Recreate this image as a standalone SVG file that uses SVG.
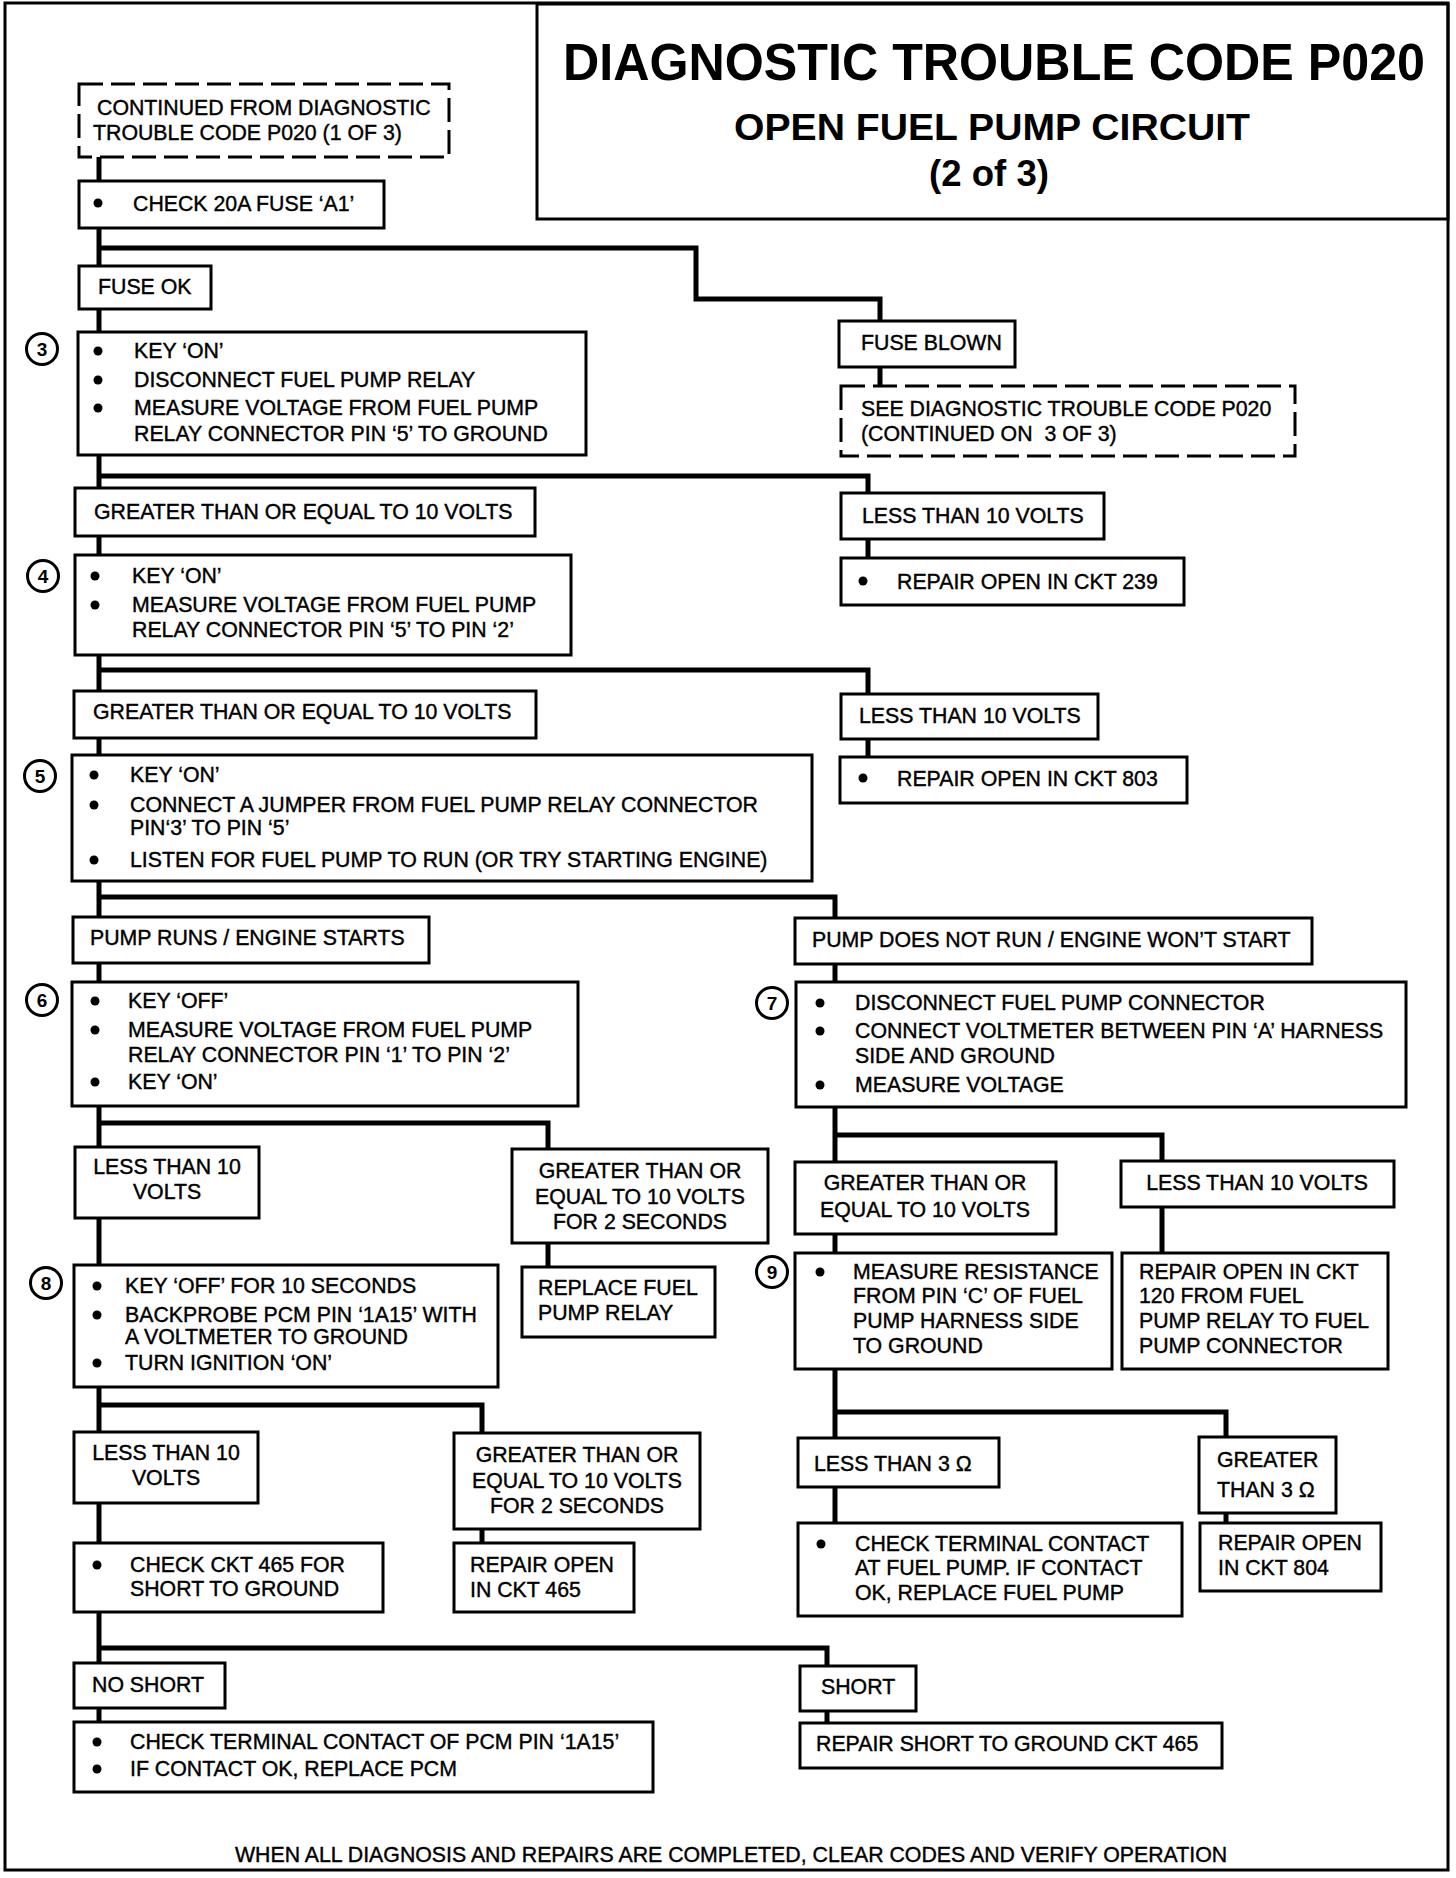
<svg xmlns="http://www.w3.org/2000/svg" width="1456" height="1878" viewBox="0 0 1456 1878">
<style>
.bg{fill:#fff}
.frame{fill:none;stroke:#000;stroke-width:3}
.box{fill:#fff;stroke:#000;stroke-width:3}
.dash{stroke-dasharray:24 8}
.t{font-family:"Liberation Sans",Arial,Helvetica,sans-serif;font-size:21.3px;fill:#000;stroke:#000;stroke-width:0.4;white-space:pre}
.m{text-anchor:middle}
.h{font-family:"Liberation Sans",Arial,Helvetica,sans-serif;font-weight:bold;fill:#000}
.b{fill:#000}
.num{fill:#fff;stroke:#000;stroke-width:3}
.nt{font-family:"Liberation Sans",Arial,Helvetica,sans-serif;font-weight:bold;font-size:19px;text-anchor:middle;fill:#000}
.cn{fill:none;stroke:#000;stroke-width:5;stroke-linejoin:miter;stroke-linecap:butt}
</style>
<rect class="bg" x="0" y="0" width="1456" height="1878"/>
<rect class="frame" x="5" y="3" width="1443" height="1867"/>
<g id="title">
<rect class="frame" x="537" y="4" width="911" height="215"/>
<text class="h" x="563" y="80" font-size="51" textLength="862" lengthAdjust="spacingAndGlyphs">DIAGNOSTIC TROUBLE CODE P020</text>
<text class="h" x="734" y="140" font-size="37" textLength="516" lengthAdjust="spacingAndGlyphs">OPEN FUEL PUMP CIRCUIT</text>
<text class="h" x="929" y="186" font-size="36" textLength="120" lengthAdjust="spacingAndGlyphs">(2 of 3)</text>
</g>
<g id="connectors">
<path class="cn" d="M99,157 V180"/>
<path class="cn" d="M99,227 V266"/>
<path class="cn" d="M99,248 H696 V299 H880 V321"/>
<path class="cn" d="M880,366 V386"/>
<path class="cn" d="M99,308 V332"/>
<path class="cn" d="M99,455 V488"/>
<path class="cn" d="M99,476 H868 V493"/>
<path class="cn" d="M868,539 V558"/>
<path class="cn" d="M99,536 V555"/>
<path class="cn" d="M99,655 V691"/>
<path class="cn" d="M99,670 H868 V694"/>
<path class="cn" d="M868,739 V757"/>
<path class="cn" d="M99,738 V755"/>
<path class="cn" d="M99,881 V917"/>
<path class="cn" d="M99,897 H835 V918"/>
<path class="cn" d="M835,964 V982"/>
<path class="cn" d="M99,963 V982"/>
<path class="cn" d="M99,1106 V1147"/>
<path class="cn" d="M99,1123 H548 V1149"/>
<path class="cn" d="M548,1243 V1267"/>
<path class="cn" d="M99,1218 V1265"/>
<path class="cn" d="M99,1387 V1432"/>
<path class="cn" d="M99,1405 H482 V1433"/>
<path class="cn" d="M482,1529 V1543"/>
<path class="cn" d="M99,1503 V1543"/>
<path class="cn" d="M99,1612 V1663"/>
<path class="cn" d="M99,1648 H827 V1666"/>
<path class="cn" d="M99,1708 V1722"/>
<path class="cn" d="M827,1711 V1723"/>
<path class="cn" d="M835,1107 V1162"/>
<path class="cn" d="M835,1135 H1162 V1161"/>
<path class="cn" d="M1162,1207 V1253"/>
<path class="cn" d="M835,1234 V1253"/>
<path class="cn" d="M835,1369 V1438"/>
<path class="cn" d="M835,1412 H1226 V1437"/>
<path class="cn" d="M835,1487 V1523"/>
<path class="cn" d="M1226,1513 V1523"/>
</g>
<g id="n_cont">
<rect class="box dash" x="79" y="84" width="370" height="73"/>
<text class="t" x="97" y="115">CONTINUED FROM DIAGNOSTIC</text>
<text class="t" x="93" y="140">TROUBLE CODE P020 (1 OF 3)</text>
</g>
<g id="n_check">
<rect class="box" x="79" y="181" width="305" height="47"/>
<circle class="b" cx="98" cy="203" r="4.5"/>
<text class="t" x="133" y="211">CHECK 20A FUSE ‘A1’</text>
</g>
<g id="n_fuseok">
<rect class="box" x="79" y="266" width="132" height="43"/>
<text class="t" x="98" y="294">FUSE OK</text>
</g>
<g id="n_fuseblown">
<rect class="box" x="839" y="321" width="176" height="46"/>
<text class="t" x="861" y="350">FUSE BLOWN</text>
</g>
<g id="n_see">
<rect class="box dash" x="841" y="386" width="454" height="70"/>
<text class="t" x="861" y="416">SEE DIAGNOSTIC TROUBLE CODE P020</text>
<text class="t" x="861" y="441">(CONTINUED ON  3 OF 3)</text>
</g>
<g id="n_step3">
<circle class="num" cx="42" cy="349" r="15.5"/>
<text class="nt" x="42" y="356">3</text>
<rect class="box" x="78" y="332" width="508" height="123"/>
<circle class="b" cx="98" cy="351" r="4.5"/>
<circle class="b" cx="98" cy="380" r="4.5"/>
<circle class="b" cx="98" cy="408" r="4.5"/>
<text class="t" x="134" y="358">KEY ‘ON’</text>
<text class="t" x="134" y="387">DISCONNECT FUEL PUMP RELAY</text>
<text class="t" x="134" y="415">MEASURE VOLTAGE FROM FUEL PUMP</text>
<text class="t" x="134" y="441">RELAY CONNECTOR PIN ‘5’ TO GROUND</text>
</g>
<g id="n_ge1">
<rect class="box" x="75" y="488" width="460" height="48"/>
<text class="t" x="94" y="519">GREATER THAN OR EQUAL TO 10 VOLTS</text>
</g>
<g id="n_lt1">
<rect class="box" x="841" y="493" width="263" height="46"/>
<text class="t" x="862" y="523">LESS THAN 10 VOLTS</text>
</g>
<g id="n_r239">
<rect class="box" x="841" y="558" width="343" height="47"/>
<circle class="b" cx="863" cy="581" r="4.5"/>
<text class="t" x="897" y="589">REPAIR OPEN IN CKT 239</text>
</g>
<g id="n_step4">
<circle class="num" cx="43" cy="576" r="15.5"/>
<text class="nt" x="43" y="583">4</text>
<rect class="box" x="75" y="555" width="496" height="100"/>
<circle class="b" cx="95" cy="576" r="4.5"/>
<circle class="b" cx="95" cy="605" r="4.5"/>
<text class="t" x="132" y="583">KEY ‘ON’</text>
<text class="t" x="132" y="612">MEASURE VOLTAGE FROM FUEL PUMP</text>
<text class="t" x="132" y="637">RELAY CONNECTOR PIN ‘5’ TO PIN ‘2’</text>
</g>
<g id="n_ge2">
<rect class="box" x="74" y="691" width="462" height="47"/>
<text class="t" x="93" y="719">GREATER THAN OR EQUAL TO 10 VOLTS</text>
</g>
<g id="n_lt2">
<rect class="box" x="841" y="694" width="257" height="45"/>
<text class="t" x="859" y="723">LESS THAN 10 VOLTS</text>
</g>
<g id="n_r803">
<rect class="box" x="840" y="757" width="347" height="46"/>
<circle class="b" cx="863" cy="778" r="4.5"/>
<text class="t" x="897" y="786">REPAIR OPEN IN CKT 803</text>
</g>
<g id="n_step5">
<circle class="num" cx="40" cy="776" r="15.5"/>
<text class="nt" x="40" y="783">5</text>
<rect class="box" x="72" y="755" width="740" height="126"/>
<circle class="b" cx="94" cy="775" r="4.5"/>
<circle class="b" cx="94" cy="805" r="4.5"/>
<circle class="b" cx="94" cy="860" r="4.5"/>
<text class="t" x="130" y="782">KEY ‘ON’</text>
<text class="t" x="130" y="812">CONNECT A JUMPER FROM FUEL PUMP RELAY CONNECTOR</text>
<text class="t" x="130" y="835">PIN‘3’ TO PIN ‘5’</text>
<text class="t" x="130" y="867">LISTEN FOR FUEL PUMP TO RUN (OR TRY STARTING ENGINE)</text>
</g>
<g id="n_runs">
<rect class="box" x="73" y="917" width="356" height="46"/>
<text class="t" x="90" y="945">PUMP RUNS / ENGINE STARTS</text>
</g>
<g id="n_notrun">
<rect class="box" x="795" y="918" width="517" height="46"/>
<text class="t" x="812" y="947">PUMP DOES NOT RUN / ENGINE WON’T START</text>
</g>
<g id="n_step6">
<circle class="num" cx="42" cy="1000" r="15.5"/>
<text class="nt" x="42" y="1007">6</text>
<rect class="box" x="72" y="982" width="506" height="124"/>
<circle class="b" cx="95" cy="1001" r="4.5"/>
<circle class="b" cx="95" cy="1030" r="4.5"/>
<circle class="b" cx="95" cy="1082" r="4.5"/>
<text class="t" x="128" y="1008">KEY ‘OFF’</text>
<text class="t" x="128" y="1037">MEASURE VOLTAGE FROM FUEL PUMP</text>
<text class="t" x="128" y="1062">RELAY CONNECTOR PIN ‘1’ TO PIN ‘2’</text>
<text class="t" x="128" y="1089">KEY ‘ON’</text>
</g>
<g id="n_step7">
<circle class="num" cx="772" cy="1003" r="15.5"/>
<text class="nt" x="772" y="1010">7</text>
<rect class="box" x="796" y="982" width="610" height="125"/>
<circle class="b" cx="820" cy="1003" r="4.5"/>
<circle class="b" cx="820" cy="1031" r="4.5"/>
<circle class="b" cx="820" cy="1085" r="4.5"/>
<text class="t" x="855" y="1010">DISCONNECT FUEL PUMP CONNECTOR</text>
<text class="t" x="855" y="1038">CONNECT VOLTMETER BETWEEN PIN ‘A’ HARNESS</text>
<text class="t" x="855" y="1063">SIDE AND GROUND</text>
<text class="t" x="855" y="1092">MEASURE VOLTAGE</text>
</g>
<g id="n_lt6">
<rect class="box" x="75" y="1147" width="184" height="71"/>
<text class="t m" x="167" y="1174">LESS THAN 10</text>
<text class="t m" x="167" y="1199">VOLTS</text>
</g>
<g id="n_ge6">
<rect class="box" x="512" y="1149" width="256" height="94"/>
<text class="t m" x="640" y="1178">GREATER THAN OR</text>
<text class="t m" x="640" y="1204">EQUAL TO 10 VOLTS</text>
<text class="t m" x="640" y="1229">FOR 2 SECONDS</text>
</g>
<g id="n_geR">
<rect class="box" x="795" y="1162" width="261" height="72"/>
<text class="t m" x="925" y="1190">GREATER THAN OR</text>
<text class="t m" x="925" y="1217">EQUAL TO 10 VOLTS</text>
</g>
<g id="n_ltR">
<rect class="box" x="1121" y="1161" width="273" height="46"/>
<text class="t m" x="1257" y="1190">LESS THAN 10 VOLTS</text>
</g>
<g id="n_replace">
<rect class="box" x="522" y="1267" width="193" height="70"/>
<text class="t" x="538" y="1295">REPLACE FUEL</text>
<text class="t" x="538" y="1320">PUMP RELAY</text>
</g>
<g id="n_step8">
<circle class="num" cx="46" cy="1283" r="15.5"/>
<text class="nt" x="46" y="1290">8</text>
<rect class="box" x="74" y="1265" width="424" height="122"/>
<circle class="b" cx="97" cy="1286" r="4.5"/>
<circle class="b" cx="97" cy="1315" r="4.5"/>
<circle class="b" cx="97" cy="1363" r="4.5"/>
<text class="t" x="125" y="1293">KEY ‘OFF’ FOR 10 SECONDS</text>
<text class="t" x="125" y="1322">BACKPROBE PCM PIN ‘1A15’ WITH</text>
<text class="t" x="125" y="1344">A VOLTMETER TO GROUND</text>
<text class="t" x="125" y="1370">TURN IGNITION ‘ON’</text>
</g>
<g id="n_step9">
<circle class="num" cx="772" cy="1272" r="15.5"/>
<text class="nt" x="772" y="1279">9</text>
<rect class="box" x="795" y="1253" width="317" height="116"/>
<circle class="b" cx="820" cy="1272" r="4.5"/>
<text class="t" x="853" y="1279">MEASURE RESISTANCE</text>
<text class="t" x="853" y="1303">FROM PIN ‘C’ OF FUEL</text>
<text class="t" x="853" y="1328">PUMP HARNESS SIDE</text>
<text class="t" x="853" y="1353">TO GROUND</text>
</g>
<g id="n_r120">
<rect class="box" x="1122" y="1253" width="266" height="116"/>
<text class="t" x="1139" y="1279">REPAIR OPEN IN CKT</text>
<text class="t" x="1139" y="1303">120 FROM FUEL</text>
<text class="t" x="1139" y="1328">PUMP RELAY TO FUEL</text>
<text class="t" x="1139" y="1353">PUMP CONNECTOR</text>
</g>
<g id="n_lt8">
<rect class="box" x="74" y="1432" width="184" height="71"/>
<text class="t m" x="166" y="1460">LESS THAN 10</text>
<text class="t m" x="166" y="1485">VOLTS</text>
</g>
<g id="n_ge8">
<rect class="box" x="454" y="1433" width="246" height="96"/>
<text class="t m" x="577" y="1462">GREATER THAN OR</text>
<text class="t m" x="577" y="1488">EQUAL TO 10 VOLTS</text>
<text class="t m" x="577" y="1513">FOR 2 SECONDS</text>
</g>
<g id="n_lt3">
<rect class="box" x="798" y="1438" width="201" height="49"/>
<text class="t" x="814" y="1471">LESS THAN 3 Ω</text>
</g>
<g id="n_gt3">
<rect class="box" x="1199" y="1437" width="137" height="76"/>
<text class="t" x="1217" y="1467">GREATER</text>
<text class="t" x="1217" y="1497">THAN 3 Ω</text>
</g>
<g id="n_ckt465">
<rect class="box" x="74" y="1543" width="309" height="69"/>
<circle class="b" cx="97" cy="1565" r="4.5"/>
<text class="t" x="130" y="1572">CHECK CKT 465 FOR</text>
<text class="t" x="130" y="1596">SHORT TO GROUND</text>
</g>
<g id="n_r465">
<rect class="box" x="454" y="1543" width="180" height="69"/>
<text class="t" x="470" y="1572">REPAIR OPEN</text>
<text class="t" x="470" y="1597">IN CKT 465</text>
</g>
<g id="n_ctfp">
<rect class="box" x="798" y="1523" width="384" height="93"/>
<circle class="b" cx="821" cy="1544" r="4.5"/>
<text class="t" x="855" y="1551">CHECK TERMINAL CONTACT</text>
<text class="t" x="855" y="1575">AT FUEL PUMP. IF CONTACT</text>
<text class="t" x="855" y="1600">OK, REPLACE FUEL PUMP</text>
</g>
<g id="n_r804">
<rect class="box" x="1200" y="1523" width="181" height="68"/>
<text class="t" x="1218" y="1550">REPAIR OPEN</text>
<text class="t" x="1218" y="1575">IN CKT 804</text>
</g>
<g id="n_noshort">
<rect class="box" x="74" y="1663" width="151" height="45"/>
<text class="t" x="92" y="1692">NO SHORT</text>
</g>
<g id="n_short">
<rect class="box" x="800" y="1666" width="116" height="45"/>
<text class="t" x="821" y="1694">SHORT</text>
</g>
<g id="n_ctpcm">
<rect class="box" x="74" y="1722" width="579" height="70"/>
<circle class="b" cx="97" cy="1742" r="4.5"/>
<circle class="b" cx="97" cy="1769" r="4.5"/>
<text class="t" x="130" y="1749">CHECK TERMINAL CONTACT OF PCM PIN ‘1A15’</text>
<text class="t" x="130" y="1776">IF CONTACT OK, REPLACE PCM</text>
</g>
<g id="n_rshort">
<rect class="box" x="800" y="1723" width="422" height="45"/>
<text class="t" x="816" y="1751">REPAIR SHORT TO GROUND CKT 465</text>
</g>
<g id="footer">
<text class="t" x="235" y="1862">WHEN ALL DIAGNOSIS AND REPAIRS ARE COMPLETED, CLEAR CODES AND VERIFY OPERATION</text>
</g>
</svg>
